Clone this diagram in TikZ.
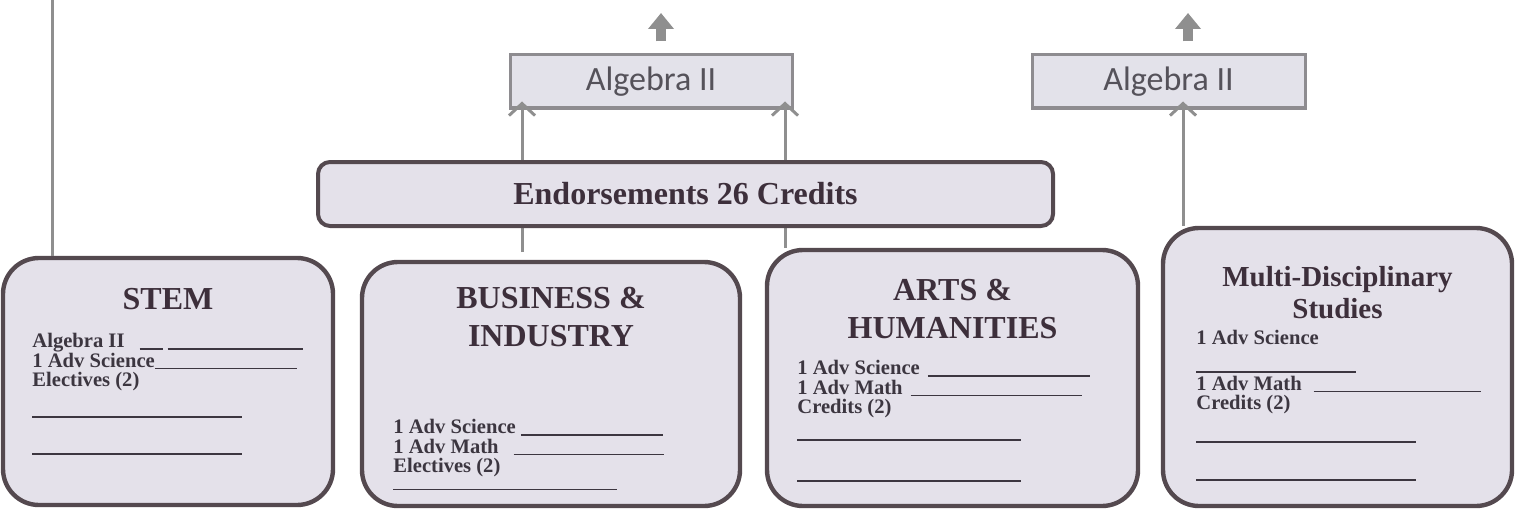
\documentclass[tikz,border=0pt]{standalone}
\usepackage{fontspec}
\setmainfont{Liberation Serif}
\newfontfamily\calibri{Carlito}
\usetikzlibrary{arrows.meta}

\definecolor{boxfill}{HTML}{E4E1EA}
\definecolor{boxline}{HTML}{54494F}
\definecolor{algfill}{HTML}{E3E2EA}
\definecolor{algline}{HTML}{8E8C90}
\definecolor{linkgray}{HTML}{8F8F8F}
\definecolor{titletext}{HTML}{3D2F3B}
\definecolor{bodytext}{HTML}{3C3640}
\definecolor{algtext}{HTML}{55525A}

% answer line for the forms
\newcommand{\ansline}[1]{\rule[-1pt]{#1pt}{0.7pt}}

\tikzset{
  track/.style={draw=boxline, line width=2.2pt, fill=boxfill, rounded corners=18pt, inner sep=0pt},
  endobox/.style={draw=boxline, line width=2pt, fill=boxfill, rounded corners=6pt,
    minimum width=367.5pt, minimum height=32pt, font=\bfseries\fontsize{16}{16}\selectfont, text=titletext},
  algbox/.style={draw=algline, line width=1.5pt, fill=algfill, minimum height=26.5pt,
    font=\calibri\fontsize{17}{17}\selectfont, text=algtext},
  tracktitle/.style={font=\bfseries\fontsize{16}{19}\selectfont, text=titletext, align=center, inner sep=0pt},
  trackbody/.style={font=\bfseries\fontsize{10.3}{9.75}\selectfont, text=bodytext, align=left, inner sep=0pt, anchor=north west},
  link/.style={draw=linkgray, line width=1.5pt},
  uplink/.style={link, -{Straight Barb[length=6pt,width=13pt]}, shorten >=-4pt},
  bigup/.style={draw=linkgray, line width=5pt, -{Triangle[length=8pt,width=12.5pt]}, shorten <=6pt}
}

\begin{document}
\begin{tikzpicture}[x=0.5pt,y=-0.5pt]
\useasboundingbox (0,0) rectangle (1518,508);

% the four endorsement tracks
\node[track, minimum width=165pt, minimum height=123.5pt] (stem) at (168,381.5) {};
\node[track, minimum width=189pt, minimum height=122pt] (busi) at (551,384) {};
\node[track, minimum width=185.5pt, minimum height=128pt] (arts) at (952.5,378) {};
\node[track, minimum width=174.5pt, minimum height=139pt] (multi) at (1337.5,367) {};

% algebra boxes
\node[algbox, minimum width=141pt] (alg1) at (651,81.5) {Algebra II};
\node[algbox, minimum width=136.5pt] (alg2) at (1168.5,81.5) {Algebra II};

% free ends
\coordinate (top1) at (661,13);
\coordinate (top2) at (1188,13);
\coordinate (stemtop) at (52,0);
\coordinate (lowL) at (522,252);
\coordinate (linkR) at (785,0);
\coordinate (linkM) at (1183,0);

\draw[bigup] (alg1.north -| top1) -- (top1);
\draw[bigup] (alg2.north -| top2) -- (top2);
\draw[link] (stem.north -| stemtop) -- (stemtop);
\draw[uplink] (lowL) -- (alg1.south -| lowL);
\draw[uplink] (arts.north -| linkR) -- (alg1.south -| linkR);
\draw[uplink] (multi.north -| linkM) -- (alg2.south -| linkM);

\node[endobox] (endo) at (685.5,194) {Endorsements 26 Credits};

% STEM
\node[tracktitle, anchor=base] (stemT) at (168,309) {STEM};
\node[trackbody] (stemB) at (32,333) {Algebra II\hspace{7.5pt}\ansline{11.5}\hspace{2.5pt}\ansline{67.5}\\
1 Adv Science\ansline{71}\\
Electives (2)\\[4.75pt]
\ansline{105}\\[8.75pt]
\ansline{105}};

% business
\node[tracktitle, anchor=north] (busiT) at (551,287) {BUSINESS \&\\INDUSTRY};
\node[trackbody] (busiB) at (393,419) {1 Adv Science\hspace{2.5pt}\ansline{71}\\
1 Adv Math\hspace{7.5pt}\ansline{75}\\
Electives (2)\\[-2pt]
\ansline{112}};

% arts
\node[tracktitle, anchor=north] (artsT) at (952.5,279) {ARTS \&\\HUMANITIES};
\node[trackbody] (artsB) at (797,360) {1 Adv Science\hspace{4pt}\ansline{81}\\
1 Adv Math\hspace{4pt}\ansline{85.5}\\
Credits (2)\\[2.75pt]
\ansline{112}\\[10.75pt]
\ansline{112}};

% multi
\node[tracktitle, anchor=north, font=\bfseries\fontsize{14.5}{16}\selectfont] (multiT) at (1337.5,266) {Multi-Disciplinary\\Studies};
\node[trackbody] (multiB) at (1196,330) {1 Adv Science\\[3.25pt]
\ansline{80}\\
1 Adv Math\hspace{6pt}\ansline{83.5}\\
Credits (2)\\[5.75pt]
\ansline{110}\\[9.25pt]
\ansline{110}};
\end{tikzpicture}
\end{document}
